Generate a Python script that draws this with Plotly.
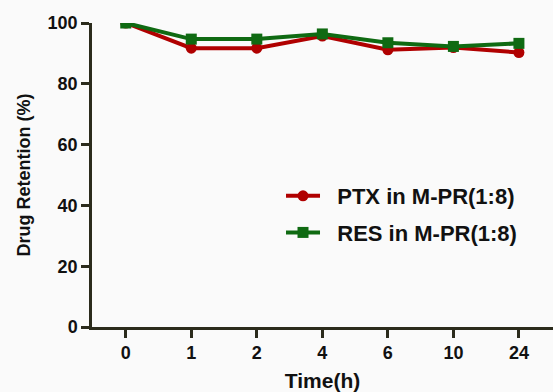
import plotly.graph_objects as go

time_labels = ["0", "1", "2", "4", "6", "10", "24"]
ptx_values = [100, 91.7, 91.7, 95.7, 91.2, 91.9, 90.3]
res_values = [100, 94.7, 94.7, 96.4, 93.5, 92.3, 93.3]
series_names = ["PTX in M-PR(1:8)", "RES in M-PR(1:8)"]

idx = list(range(len(time_labels)))
font_family = "Liberation Sans, Arial, sans-serif"
pad = "\u00a0\u00a0"

fig = go.Figure()
fig.add_trace(go.Scatter(
    x=idx, y=ptx_values, name=pad + "<b>%s</b>" % series_names[0], mode="lines+markers",
    legendgroup="a",
    line=dict(color="#b00000", width=4),
    marker=dict(symbol="circle", size=11, color="#b00000"),
))
fig.add_trace(go.Scatter(
    x=idx, y=res_values, name=pad + "<b>%s</b>" % series_names[1], mode="lines+markers",
    legendgroup="b",
    line=dict(color="#0f6a12", width=4),
    marker=dict(symbol="square", size=11, color="#0f6a12"),
))

axis_color = "#2b2b1c"
fig.update_layout(
    width=553, height=392,
    margin=dict(l=92, r=0, t=23, b=65),
    paper_bgcolor="#fafafa", plot_bgcolor="#fafafa",
    font=dict(family=font_family, color="#111111"),
    showlegend=True,
    legend=dict(x=0.41, y=0.37, xanchor="left", yanchor="middle",
                bgcolor="rgba(0,0,0,0)", font=dict(size=22, family=font_family),
                tracegroupgap=5, itemwidth=34),
    xaxis=dict(
        range=[-0.515, 6.52], tickmode="array", tickvals=idx, ticktext=["<b>%s</b>" % t for t in time_labels],
        showline=True, linecolor=axis_color, linewidth=2.5,
        ticks="outside", ticklen=8, tickwidth=2.5, tickcolor=axis_color,
        showgrid=False, zeroline=False, tickfont=dict(size=18), automargin=False,
        title=dict(text="<b>Time(h)</b>", font=dict(size=21), standoff=14),
    ),
    yaxis=dict(
        range=[0, 100], tickvals=[0, 20, 40, 60, 80, 100],
        ticktext=["<b>%d</b>" % v for v in [0, 20, 40, 60, 80, 100]],
        showline=True, linecolor=axis_color, linewidth=2.5,
        ticks="outside", ticklen=8, tickwidth=2.5, tickcolor=axis_color,
        showgrid=False, zeroline=False, tickfont=dict(size=18), automargin=False,
        title=dict(text="<b>Drug Retention (%)</b>", font=dict(size=18), standoff=13),
    ),
)

fig.write_html("out.html", config={"displayModeBar": False},
               post_script="document.body.style.margin='0';")
